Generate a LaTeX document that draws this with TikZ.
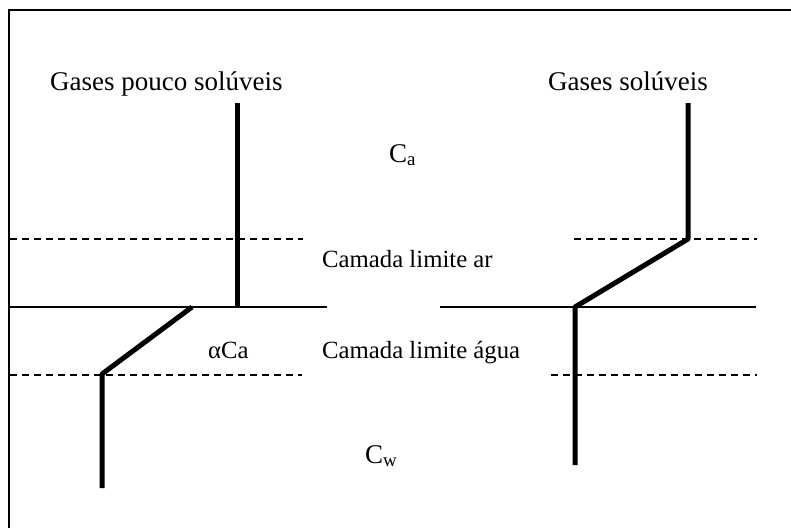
\documentclass[tikz,border=0pt]{standalone}
\usepackage{fontspec}
\setmainfont{Liberation Serif}
\begin{document}
\begin{tikzpicture}[x=1pt,y=-1pt,
  frame/.style={line width=2pt},
  thickln/.style={line width=5pt},
  surface/.style={line width=2.8pt},
  dashln/.style={line width=1.4pt,dash pattern=on 7pt off 5pt},
  bigtxt/.style={anchor=base west,inner sep=0pt,font=\fontsize{27}{30}\selectfont},
  smalltxt/.style={anchor=base west,inner sep=0pt,font=\fontsize{24.75}{28}\selectfont}]
\useasboundingbox (0,0) rectangle (791,527);
\clip (0,0) rectangle (791,527);
\fill[white] (0,0) rectangle (791,527);
\draw[frame] (9,10) rectangle (820,560);
% texts
\node[bigtxt] (t1) at (50,90) {Gases pouco solúveis};
\node[bigtxt] (t2) at (548,90) {Gases solúveis};
\node[bigtxt] (ca) at (389,162) {C\textsubscript{a}};
\node[smalltxt] (ar) at (322,267) {Camada limite ar};
\node[smalltxt] (ag) at (322,358) {Camada limite água};
\node[smalltxt] (aca) at (208,358) {αCa};
\node[bigtxt] (cw) at (365,463) {C\textsubscript{w}};
% dashed boundary layers
\draw[dashln] (10,239) -- (303,239);
\draw[dashln] (574,239) -- (757,239);
\draw[dashln] (10,375) -- (302,375);
\draw[dashln] (551,375) -- (757,375);
% interface
\draw[surface] (10,307) -- (327,307);
\draw[surface] (440,307) -- (756,307);
% concentration profiles
\draw[thickln,line join=miter] (237,103) -- (237,307);
\draw[thickln,line join=round] (192,307) -- (102,374) -- (102,488);
\draw[thickln,line join=round] (688,103) -- (688,239) -- (575,307) -- (575,465);
\end{tikzpicture}
\end{document}
